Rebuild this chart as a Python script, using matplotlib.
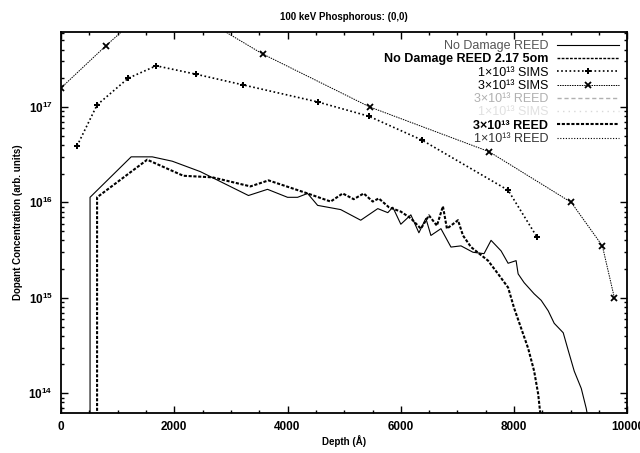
import matplotlib
matplotlib.use('Agg')
import matplotlib.pyplot as plt
from matplotlib.ticker import LogLocator, MultipleLocator

plt.rcParams['font.family'] = ['Liberation Sans', 'DejaVu Sans']

# No damage REED profile (solid)
nd_depth = [513, 513, 1239, 1611, 1965, 2460, 3310, 3646, 4000, 4177, 4354, 4531, 4938,
            5292, 5593, 5770, 5858, 6000, 6177, 6319, 6442, 6531, 6708, 6885, 7062,
            7274, 7469, 7593, 7770, 7894, 8035, 8071, 8177, 8354, 8478, 8602, 8708,
            8867, 8956, 9062, 9186, 9274, 9345]
nd_conc = [1e13, 1.13e16, 3.0e16, 3.0e16, 2.7e16, 2.1e16, 1.18e16, 1.37e16, 1.13e16,
           1.13e16, 1.24e16, 9.3e15, 8.4e15, 6.5e15, 8.6e15, 7.8e15, 8.9e15, 5.9e15,
           7.4e15, 4.8e15, 6.8e15, 4.5e15, 5.3e15, 3.4e15, 3.5e15, 3.0e15, 2.9e15,
           4.0e15, 3.1e15, 2.3e15, 2.45e15, 1.78e15, 1.44e15, 1.1e15, 9.4e14, 7.3e14,
           5.4e14, 4.3e14, 2.8e14, 1.7e14, 1.12e14, 6.9e13, 4e13]

# 3x10^13 REED profile (dashed)
r3_depth = [637, 637, 1522, 2159, 2673, 3345, 3664, 4354, 4761, 4973, 5168, 5345, 5504,
            5611, 5788, 6000, 6177, 6354, 6496, 6637, 6743, 6814, 7009, 7097, 7239,
            7540, 7717, 7894, 8000, 8124, 8248, 8354, 8425, 8478]
r3_conc = [1e13, 1.13e16, 2.8e16, 1.9e16, 1.83e16, 1.47e16, 1.7e16, 1.24e16, 1.02e16,
           1.24e16, 1.08e16, 1.24e16, 1.02e16, 1.1e16, 8.9e15, 8.0e15, 6.8e15, 5.3e15,
           7.3e15, 5.7e15, 9.1e15, 5.3e15, 6.5e15, 4.5e15, 3.4e15, 2.45e15, 1.78e15,
           1.28e15, 7.8e14, 4.8e14, 2.95e14, 1.7e14, 9.8e13, 5e13]

# SIMS data
s1_depth = [283, 637, 1186, 1681, 2390, 3221, 4531, 5434, 6372, 7894, 8407]
s1_conc = [3.9e16, 1.05e17, 2.0e17, 2.7e17, 2.2e17, 1.7e17, 1.13e17, 8.0e16, 4.5e16,
           1.34e16, 4.3e15]
s3_depth = [0, 796, 1800, 3558, 5451, 7558, 9009, 9558, 9770]
s3_conc = [1.58e17, 4.4e17, 1.5e18, 3.6e17, 1.0e17, 3.4e16, 1.0e16, 3.5e15, 1.0e15]

legend_labels = ['No Damage REED', 'No Damage REED 2.17 5om',
                 '1×10¹³ SIMS', '3×10¹³ SIMS',
                 '3×10¹³ REED', '1×10¹³ SIMS',
                 '3×10¹³ REED', '1×10¹³ REED']

fig = plt.figure(figsize=(6.4, 4.53), dpi=100)
ax = fig.add_axes([0.0953, 0.0883, 0.885, 0.841])

h1, = ax.plot(nd_depth, nd_conc, color='black', lw=0.8)
h2, = ax.plot([], [], color='black', lw=1.0, ls=(0, (2, 1)))
h3, = ax.plot(s1_depth, s1_conc, color='black', lw=1.2, ls=(0, (1, 1.5)),
              marker='P', ms=4.5, markeredgewidth=0)
h4, = ax.plot(s3_depth, s3_conc, color='black', lw=0.7, ls=(0, (1.5, 1)),
              marker='x', ms=5, markeredgewidth=1.3)
h5, = ax.plot([], [], color='#b0b0b0', lw=1.0, ls=(0, (3, 2)))
h6, = ax.plot([], [], color='#d8d8d8', lw=1.0, ls=(0, (1, 3)))
h7, = ax.plot(r3_depth, r3_conc, color='black', lw=1.5, ls=(0, (1.5, 0.8)))
h8, = ax.plot([], [], color='black', lw=0.8, ls=(0, (1, 1.5)))

ax.set_yscale('log')
ax.set_xlim(0, 10000)
ax.set_ylim(6.2e13, 6.1e17)

ax.xaxis.set_major_locator(MultipleLocator(2000))
ax.xaxis.set_minor_locator(MultipleLocator(500))
ax.yaxis.set_major_locator(LogLocator(base=10))
ax.yaxis.set_minor_locator(LogLocator(base=10, subs=range(2, 10)))
ax.tick_params(which='both', direction='in', top=True, right=True, width=1.0)
ax.tick_params(which='major', length=5, labelsize=8.5, pad=6)
ax.tick_params(which='minor', length=2.5)
for lab in ax.get_xticklabels() + ax.get_yticklabels():
    lab.set_fontweight('bold')
for s in ax.spines.values():
    s.set_linewidth(1.3)

ax.set_title('100 keV Phosphorous: (0,0)', fontsize=7, fontweight='bold', pad=9)
ax.set_xlabel('Depth (Å)', fontsize=7, fontweight='bold', labelpad=1)
ax.set_ylabel('Dopant Concentration (arb. units)', fontsize=7, fontweight='bold', labelpad=4)

handles = [h1, h2, h3, h4, h5, h6, h7, h8]
leg = ax.legend(handles, legend_labels, loc='upper right', frameon=False,
                markerfirst=False, fontsize=9, handlelength=5, labelspacing=0.1,
                borderaxespad=0.45, borderpad=0.2, handletextpad=0.7)
text_colors = ['#555555', 'black', 'black', 'black', '#b0b0b0', '#e0e0e0', 'black', '#333333']
text_weights = ['normal', 'bold', 'normal', 'normal', 'normal', 'normal', 'bold', 'normal']
for t, c, w in zip(leg.get_texts(), text_colors, text_weights):
    t.set_color(c)
    t.set_fontweight(w)

# right-align the rows so the labels end next to their line samples
for col in leg._legend_box._children[-1]._children:
    col.align = 'right'

fig.savefig('out.png', dpi=100)
